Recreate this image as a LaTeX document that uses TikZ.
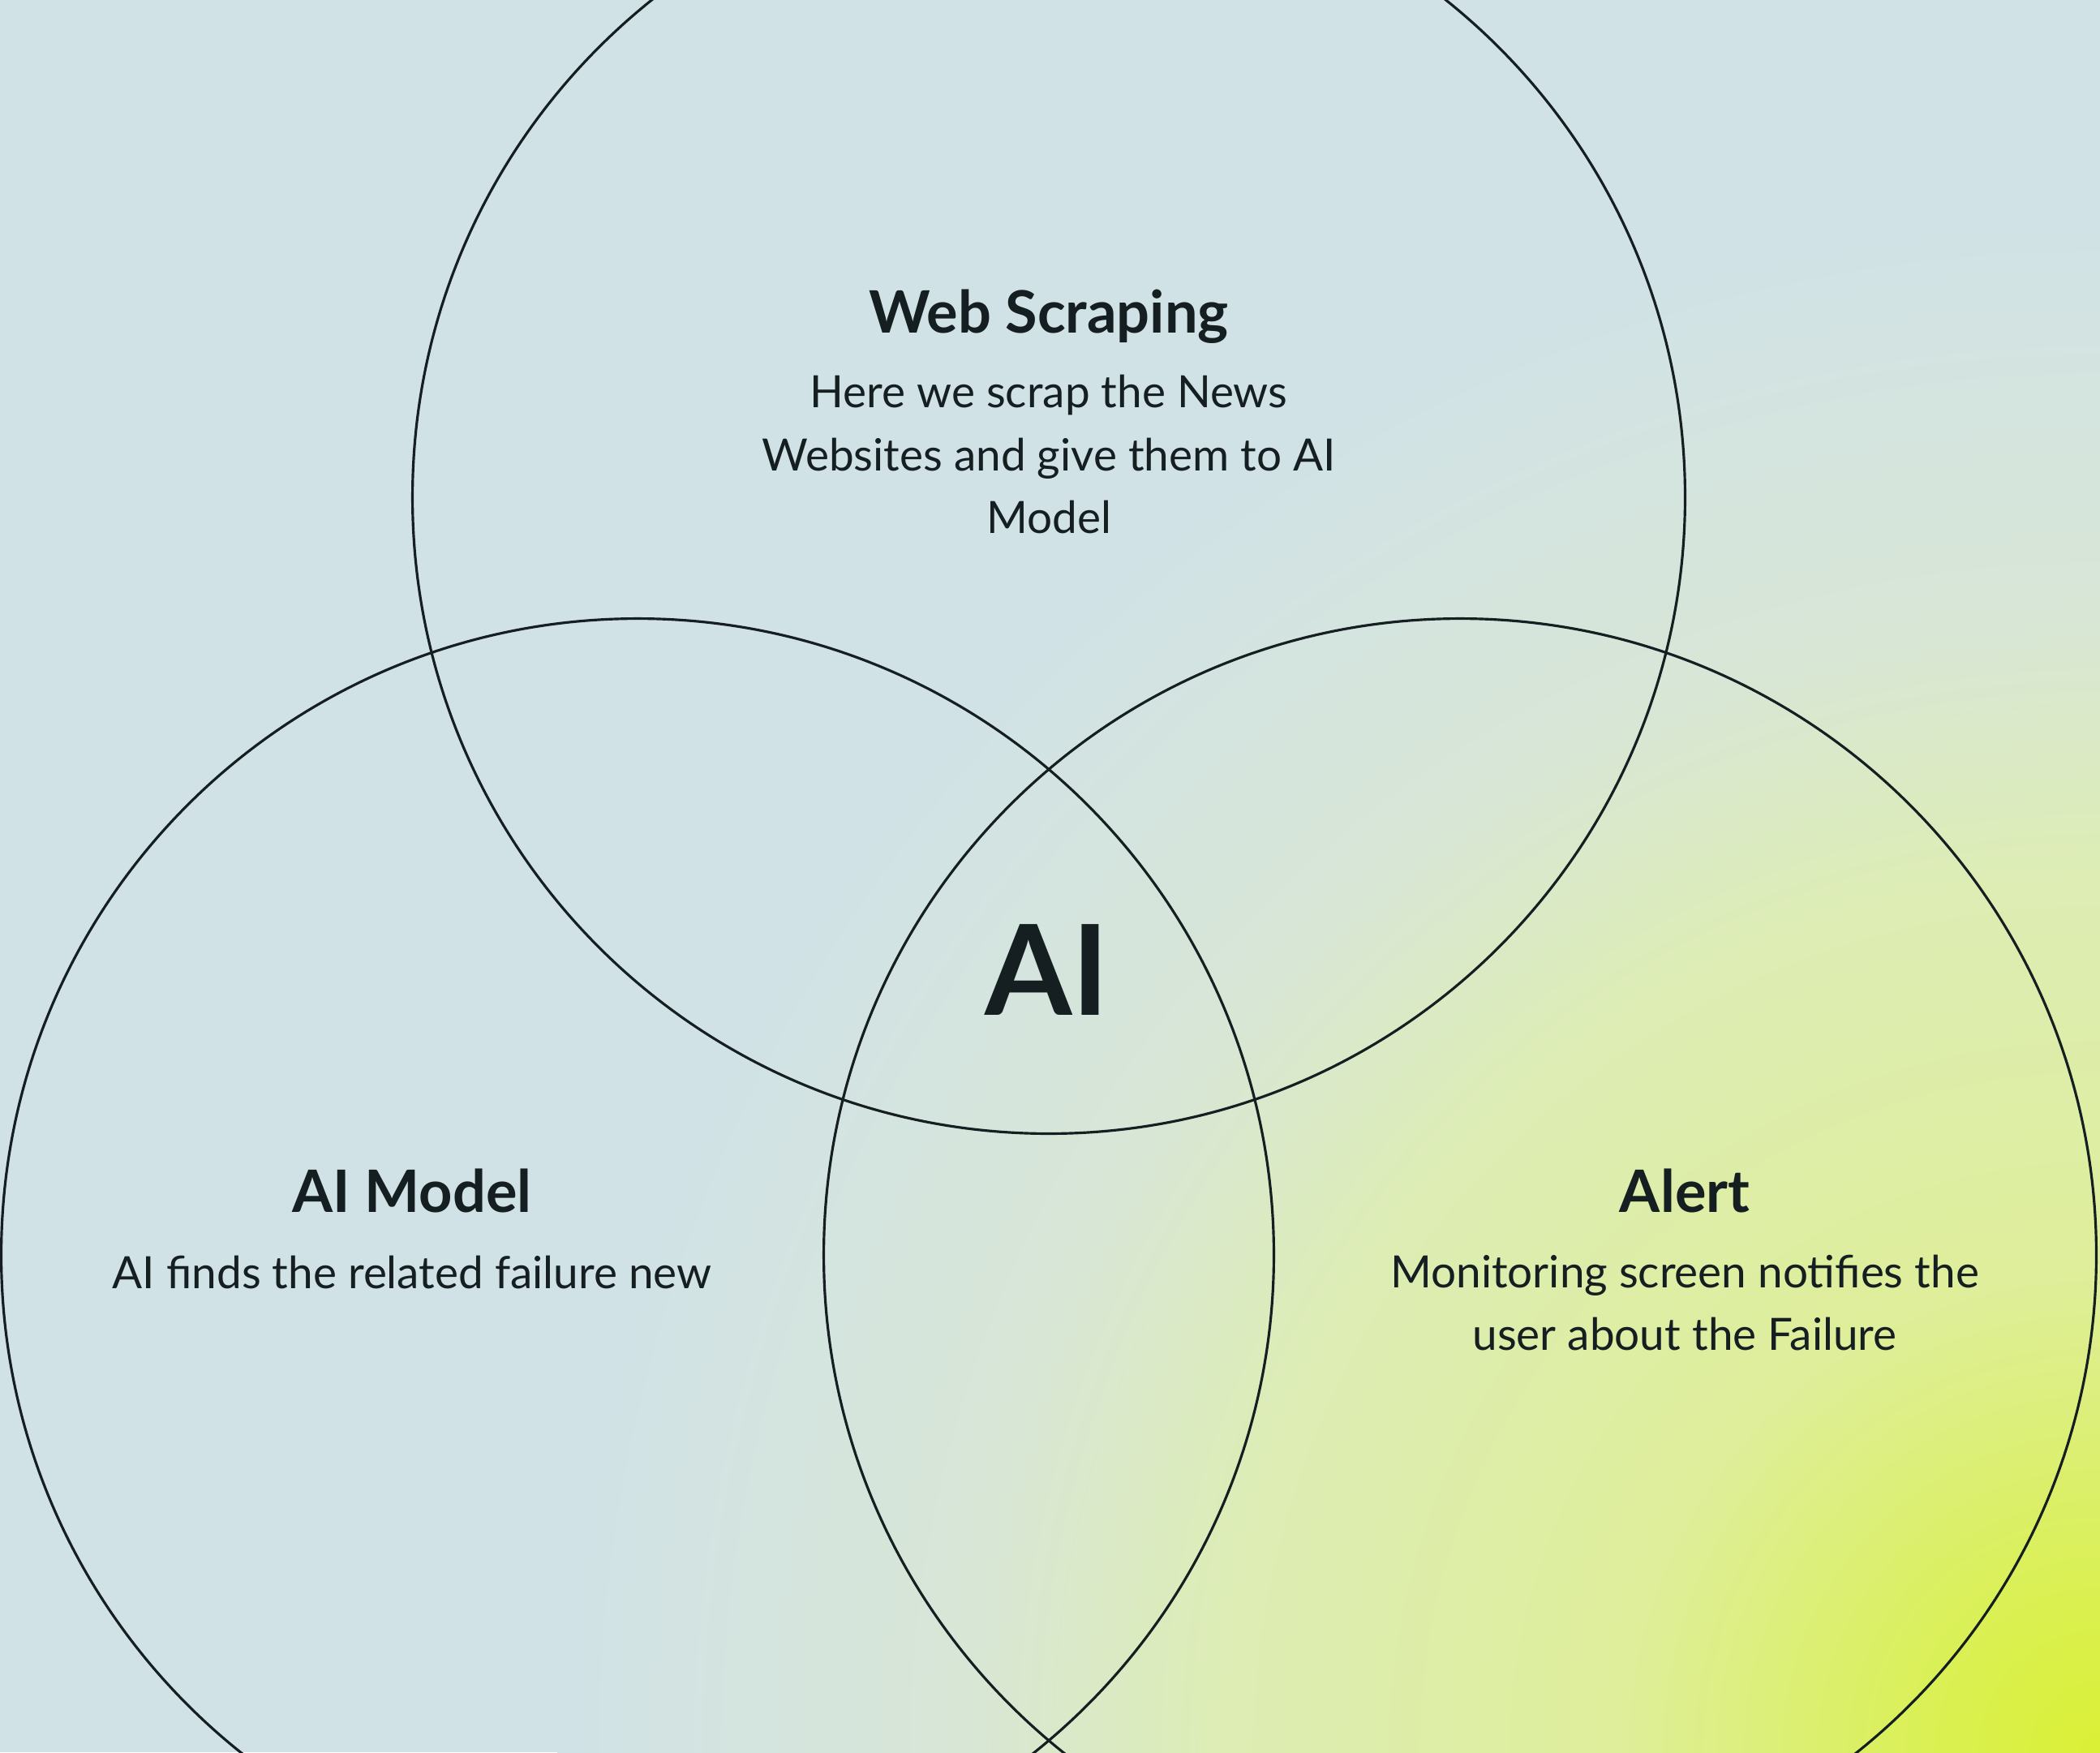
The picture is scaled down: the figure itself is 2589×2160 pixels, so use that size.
\documentclass[tikz,border=0pt]{standalone}
\usepackage{fontspec}
\setmainfont{Lato}
\definecolor{bg}{HTML}{D0E2E6}
\definecolor{ink}{HTML}{151E20}
\definecolor{gA}{HTML}{DAF035}
\definecolor{gB}{HTML}{DAF050}
\definecolor{gC}{HTML}{DEEE9A}
\definecolor{gD}{HTML}{DDEDB5}
\definecolor{gE}{HTML}{D8E6D6}
\definecolor{gF}{HTML}{D2E3E3}
% stops in real size: 1 px = 0.01cm = 0.2835bp
\pgfdeclareradialshading{glow}{\pgfpoint{0bp}{0bp}}{color(0bp)=(gA); color(54bp)=(gB); color(167bp)=(gC); color(309bp)=(gD); color(397bp)=(gE); color(510bp)=(gF); color(539bp)=(bg)}
\begin{document}
\begin{tikzpicture}[x=0.01cm,y=-0.01cm,
  ring/.style={circle, draw=ink, line width=0.9pt, minimum size=15.68cm, inner sep=0pt, outer sep=0pt},
  head/.style={anchor=base, inner sep=0pt, text=ink, font=\bfseries\fontsize{20.5}{24}\selectfont},
  body/.style={anchor=base, inner sep=0pt, text=ink, align=center, font=\fontsize{15.6}{21.9}\selectfont},
  big/.style={anchor=base, inner sep=0pt, text=ink, font=\bfseries\fontsize{44}{50}\selectfont}]
\useasboundingbox (0,0) rectangle (2589,2160);
\fill[bg] (0,0) rectangle (2589,2160);
\begin{scope}
  \clip (0,0) rectangle (2589,2160);
  \node[inner sep=0pt, outer sep=0pt] (glowbox) at (2589,2160) {\pgfuseshading{glow}};
  \node[ring] (web) at (1293,613) {};
  \node[ring] (model) at (786,1547) {};
  \node[ring] (alert) at (1800,1547) {};
\end{scope}
\node[head] (webT) at (1293,410) {Web Scraping};
\node[body] (webB) at (1293,657) {Here we scrap the News\\Websites and give them to AI\\Model};
\node[big] (ai) at (1291,1251) {AI};
\node[head] (modelT) at (508,1494) {AI Model};
\node[body] (modelB) at (508,1588) {AI finds the related failure new};
\node[head] (alertT) at (2077,1494) {Alert};
\node[body] (alertB) at (2077,1664) {Monitoring screen notifies the\\user about the Failure};
\end{tikzpicture}
\end{document}
